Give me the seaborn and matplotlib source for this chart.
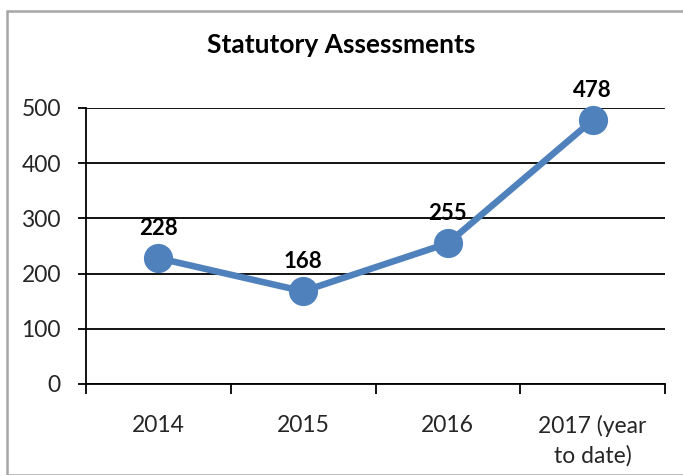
import matplotlib
matplotlib.use("Agg")
import matplotlib.pyplot as plt
import seaborn as sns
import pandas as pd
from matplotlib.patches import Rectangle

categories = ["2014", "2015", "2016", "2017 (year\nto date)"]
values = [228, 168, 255, 478]
yticks = [0, 100, 200, 300, 400, 500]

sns.set_theme(style="white")
plt.rcParams['font.family'] = ['Lato', 'DejaVu Sans']

W, H = 683, 475
fig = plt.figure(figsize=(W / 100, H / 100), dpi=100)
ax = fig.add_axes([86 / W, 1 - 384 / H, (665 - 86) / W, (384 - 108) / H])

df = pd.DataFrame({"cat": categories, "val": values})
color = "#4F81BD"
sns.lineplot(data=df, x="cat", y="val", ax=ax, color=color, linewidth=4.7,
             marker="o", markersize=21, markeredgewidth=0, sort=False, clip_on=False)

ax.set_xlim(-0.5, len(categories) - 0.5)
ax.set_ylim(0, 500)
ax.set_yticks(yticks)
ax.set_yticklabels([str(t) for t in yticks], fontsize=16.5)
ax.set_xticks(range(len(categories)))
ax.set_xticklabels(categories, fontsize=16.5, linespacing=1.5)
ax.set_xticks([i - 0.5 for i in range(len(categories) + 1)], minor=True)
ax.tick_params(axis="x", which="major", length=0, pad=22)
ax.tick_params(axis="x", which="minor", length=7, width=1.3, color="black", direction="out", bottom=True)
ax.tick_params(axis="y", which="major", length=6, width=1.3, color="black", direction="out", left=True, pad=12)
ax.set_xlabel("")
ax.set_ylabel("")

ax.yaxis.grid(True, color="black", linewidth=1.3)
ax.set_axisbelow(True)
for s in ["top", "right"]:
    ax.spines[s].set_visible(False)
for s in ["left", "bottom"]:
    ax.spines[s].set_color("black")
    ax.spines[s].set_linewidth(1.3)

for i, v in enumerate(values):
    ax.annotate(str(v), (i, v), xytext=(0, 14), textcoords="offset points",
                ha="center", va="bottom", fontsize=16, fontweight="bold", color="black",
                annotation_clip=False)

fig.text(0.5, 1 - 45 / H, "Statutory Assessments", ha="center", va="center",
         fontsize=19, fontweight="bold", color="black")

fig.patches.append(Rectangle((7 / W, 0), 1.0, 1 - 11 / H, transform=fig.transFigure,
                             fill=False, edgecolor="#a6a6a6", linewidth=1.8))

fig.savefig("out.png", dpi=100)
